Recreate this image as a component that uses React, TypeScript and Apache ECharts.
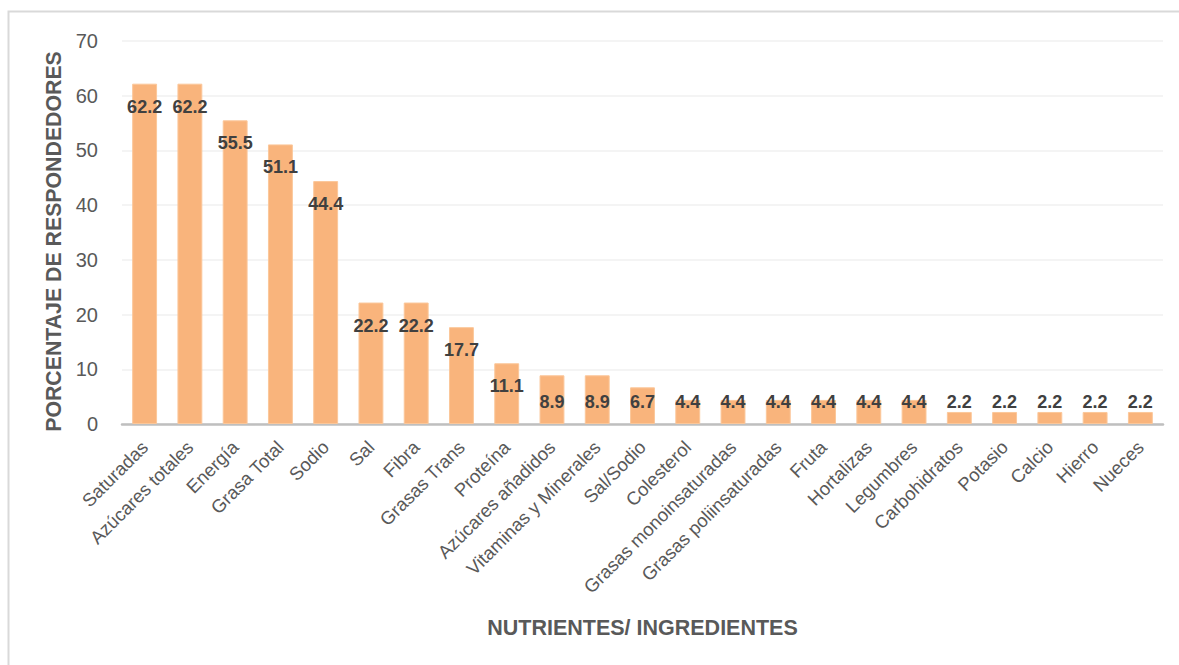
import React, { useEffect, useRef } from "react";
import * as echarts from "echarts";

const categories = [
  "Saturadas", "Azúcares totales", "Energía", "Grasa Total", "Sodio", "Sal", "Fibra",
  "Grasas Trans", "Proteína", "Azúcares añadidos", "Vitaminas y Minerales", "Sal/Sodio",
  "Colesterol", "Grasas monoinsaturadas", "Grasas poliinsaturadas", "Fruta", "Hortalizas",
  "Legumbres", "Carbohidratos", "Potasio", "Calcio", "Hierro", "Nueces",
];
const values = [
  62.2, 62.2, 55.5, 51.1, 44.4, 22.2, 22.2, 17.7, 11.1, 8.9, 8.9, 6.7,
  4.4, 4.4, 4.4, 4.4, 4.4, 4.4, 2.2, 2.2, 2.2, 2.2, 2.2,
];
const yTicks = { min: 0, max: 70, interval: 10 };
const yName = "PORCENTAJE DE RESPONDEDORES";
const xName = "NUTRIENTES/ INGREDIENTES";

export default function App() {
  const ref = useRef<HTMLDivElement>(null);
  useEffect(() => {
    if (!ref.current) return;
    const chart = echarts.init(ref.current, undefined, { renderer: "svg" });
    const font = "'Liberation Sans', Arial, sans-serif";
    chart.setOption({
      animation: false,
      backgroundColor: "#ffffff",
      textStyle: { fontFamily: font },
      graphic: [
        {
          type: "rect",
          shape: { x: 8.5, y: 11.5, width: 1200, height: 700 },
          style: { fill: "none", stroke: "#d9d9d9", lineWidth: 2 },
          silent: true,
        },
      ],
      grid: { left: 122, right: 16, top: 41, bottom: 241 },
      xAxis: {
        type: "category",
        data: categories,
        name: xName,
        nameLocation: "middle",
        nameGap: 193,
        nameTextStyle: { fontFamily: font, fontSize: 21.5, fontWeight: "bold", color: "#595959" },
        axisLine: { lineStyle: { color: "#bfbfbf", width: 2.5 } },
        axisTick: { show: false },
        axisLabel: {
          rotate: 45,
          interval: 0,
          margin: 20,
          fontFamily: font,
          fontSize: 18.5,
          color: "#595959",
        },
      },
      yAxis: {
        type: "value",
        min: yTicks.min,
        max: yTicks.max,
        interval: yTicks.interval,
        name: yName,
        nameLocation: "middle",
        nameGap: 57,
        nameTextStyle: {
          fontFamily: font,
          fontSize: 21.3,
          fontWeight: "bold",
          color: "#595959",
          padding: [0, 18, 0, 0],
        },
        axisLine: { show: false },
        axisTick: { show: false },
        axisLabel: { fontFamily: font, fontSize: 20, color: "#595959", margin: 24 },
        splitLine: { lineStyle: { color: "#f0f0f0", width: 1.5 } },
      },
      series: [
        {
          type: "bar",
          barWidth: "55%",
          data: values.map((v) => ({
            value: v,
            label: v < 10
              ? { position: "insideBottom", distance: 13 }
              : { position: "insideTop", distance: 14 },
          })),
          itemStyle: { color: "#f9b47c", borderColor: "#fbc79a", borderWidth: 1 },
          label: {
            show: true,
            fontFamily: font,
            fontSize: 18,
            fontWeight: "bold",
            color: "#404040",
            formatter: (p: any) => Number(p.value).toFixed(1),
          },
        },
      ],
    });
    return () => chart.dispose();
  }, []);
  return (
    <div
      ref={ref}
      style={{ position: "absolute", left: 0, top: 0, width: 1179, height: 665 }}
    />
  );
}
